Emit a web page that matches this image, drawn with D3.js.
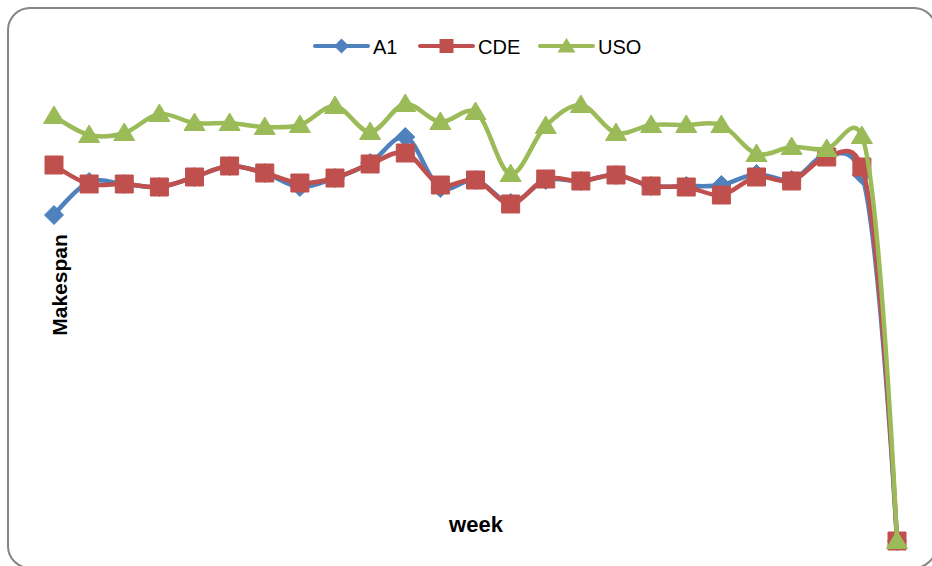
<!DOCTYPE html>
<html>
<head>
<meta charset="utf-8">
<script src="https://cdn.jsdelivr.net/npm/d3@7"></script>
<style>
  html, body { margin: 0; padding: 0; background: #fff; }
  svg { display: block; }
</style>
</head>
<body>
<svg id="chart" width="932" height="566"></svg>
<script>
// ---- data ----
const weeks = d3.range(1, 26);
const seriesNames = ["A1", "CDE", "USO"];
const a1  = [652,718,714,708,728,750,736,708,726,756,808,706,722,676,722,720,732,710,710,712,734,722,772,732,0];
const cde = [752,714,714,708,728,750,736,716,726,754,776,712,722,674,724,720,732,710,708,692,728,720,768,748,0];
const uso = [850,812,816,854,836,836,828,832,870,818,874,838,858,734,830,872,816,832,832,832,774,788,784,810,0];
const seriesValues = [a1, cde, uso];
const colors = ["#4F81BD", "#C0504D", "#9BBB59"];
const xTitle = "week";
const yTitle = "Makespan";

// ---- layout ----
const svg = d3.select("#chart");

svg.append("rect")
  .attr("x", 8).attr("y", 8)
  .attr("width", 928).attr("height", 560)
  .attr("rx", 22).attr("ry", 22)
  .attr("fill", "#fff")
  .attr("stroke", "#868686")
  .attr("stroke-width", 2);

const x = d3.scalePoint().domain(weeks).range([54, 897]);
const y = d3.scaleLinear().domain([0, 1000]).range([541, 41]);

const markers = {
  A1:  "M0,-9.5L9.5,0L0,9.5L-9.5,0Z",
  CDE: "M-9,-9L9,-9L9,9L-9,9Z",
  USO: "M0,-10L10.5,7.5L-10.5,7.5Z"
};
const legendMarkers = {
  A1:  "M0,-7.5L7.5,0L0,7.5L-7.5,0Z",
  CDE: "M-7,-7L7,-7L7,7L-7,7Z",
  USO: "M0,-8L9,6.5L-9,6.5Z"
};

const line = d3.line()
  .x((d, i) => x(weeks[i]))
  .y(d => y(d))
  .curve(d3.curveCatmullRom.alpha(0.25));

const plot = svg.append("g");
seriesNames.forEach((name, si) => {
  const vals = seriesValues[si];
  const g = plot.append("g");
  g.append("path")
    .attr("d", line(vals))
    .attr("fill", "none")
    .attr("stroke", colors[si])
    .attr("stroke-width", 4.5)
    .attr("stroke-linejoin", "round")
    .attr("stroke-linecap", "round");
  g.selectAll("path.m")
    .data(vals)
    .join("path")
    .attr("class", "m")
    .attr("d", markers[name])
    .attr("transform", (d, i) => `translate(${x(weeks[i])},${y(d)})`)
    .attr("fill", colors[si])
    .attr("stroke", colors[si])
    .attr("stroke-width", 1);
});

// ---- legend ----
const legendItems = [
  { x0: 315, x1: 368, tx: 373 },
  { x0: 420, x1: 473, tx: 478 },
  { x0: 540, x1: 593, tx: 598 }
];
const leg = svg.append("g");
seriesNames.forEach((name, si) => {
  const it = legendItems[si];
  const ly = 46;
  leg.append("line")
    .attr("x1", it.x0).attr("x2", it.x1)
    .attr("y1", ly).attr("y2", ly)
    .attr("stroke", colors[si]).attr("stroke-width", 4)
    .attr("stroke-linecap", "round");
  leg.append("path")
    .attr("d", legendMarkers[name])
    .attr("transform", `translate(${(it.x0 + it.x1) / 2},${ly})`)
    .attr("fill", colors[si]);
  leg.append("text")
    .attr("x", it.tx).attr("y", ly + 7.5)
    .attr("font-family", "Liberation Sans, Arial, sans-serif")
    .attr("font-size", 20)
    .attr("fill", "#000")
    .text(name);
});

// ---- axis titles ----
svg.append("text")
  .attr("x", 476).attr("y", 532)
  .attr("text-anchor", "middle")
  .attr("font-family", "Liberation Sans, Arial, sans-serif")
  .attr("font-weight", "bold")
  .attr("font-size", 22)
  .attr("fill", "#000")
  .text(xTitle);

svg.append("text")
  .attr("transform", "translate(67,285) rotate(-90)")
  .attr("text-anchor", "middle")
  .attr("font-family", "Liberation Sans, Arial, sans-serif")
  .attr("font-weight", "bold")
  .attr("font-size", 21)
  .attr("fill", "#000")
  .text(yTitle);
</script>
</body>
</html>
